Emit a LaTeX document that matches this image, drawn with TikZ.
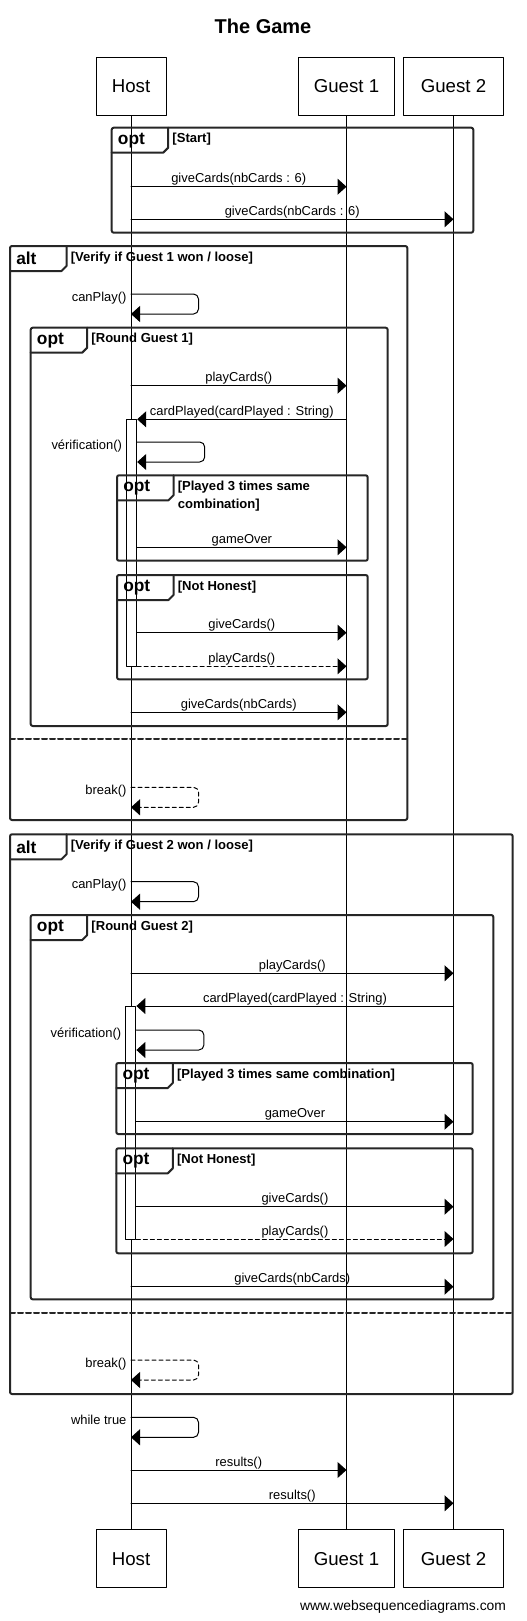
\documentclass[tikz,border=0pt]{standalone}
\usepackage{fontspec}
\setmainfont{Liberation Sans}
\usepackage{tikz}
\usetikzlibrary{positioning,calc,arrows.meta}

\begin{document}
\begin{tikzpicture}[x=0.75pt,y=-0.75pt, font=\fontsize{9.7}{11.5}\selectfont, line cap=round, line join=round]
	% ===== nền =====
	\fill[white] (0,0) rectangle (526,1621);
	\useasboundingbox (0,0) rectangle (526,1621);

	% ===== style =====
	\tikzset{
		actor/.style={draw, line width=0.75pt, minimum height=43.5pt, inner sep=0pt, font=\fontsize{14}{16}\selectfont},
		life/.style={line width=0.75pt},
		actbar/.style={draw, fill=white, line width=0.75pt, minimum width=7.8pt, inner sep=0pt},
		msg/.style={line width=0.75pt, -{Triangle[length=6.75pt,width=12pt]}},
		ret/.style={msg, dash pattern=on 3pt off 2.25pt},
		loopmsg/.style={msg, rounded corners=3.75pt},
		retloop/.style={ret, rounded corners=3.75pt},
		frame/.style={draw=black!85, line width=1.5pt, rounded corners=1.5pt},
		sep/.style={draw=black!85, line width=1.5pt, dash pattern=on 3.75pt off 2.25pt},
		kind/.style={anchor=west, inner sep=0pt, font=\fontsize{13}{15}\bfseries\selectfont},
		guard/.style={anchor=north west, inner sep=0pt, align=left, font=\fontsize{9.8}{13.7}\bfseries\selectfont},
		lbl/.style={midway, anchor=base, yshift=2.8pt, inner sep=0pt},
		side/.style={anchor=base east, inner sep=0pt}
	}

	% ===== tiêu đề =====
	\node[font=\fontsize{15}{18}\bfseries\selectfont] (title) at (263,26) {The Game};

	% ===== các đối tượng + đường đời =====
	\foreach \n/\x/\w/\t in {host/131/52.5/Host, gOne/346.5/72/Guest 1, gTwo/453.5/75/Guest 2}{
		\node[actor, minimum width=\w pt] (\n-top) at (\x,86) {\t};
		\node[actor, minimum width=\w pt] (\n-bot) at (\x,1558.7) {\t};
		\draw[life] (\n-top) -- (\n-bot);
	}

	% ===== thanh kích hoạt =====
	\node[actbar, minimum height=185.25pt] (actOne) at (131.5,542.8) {};
	\node[actbar, minimum height=174.75pt] (actTwo) at (130.7,1122.5) {};

	% ===== các khung opt / alt =====
	\foreach \xa/\ya/\xb/\yb/\k/\g [count=\i] in {
		111.7/127.7/473.3/232.7/opt/{[Start]},
		10/246/407.3/820/alt/{[Verify if Guest 1 won / loose]},
		30.7/327.7/387.7/726/opt/{[Round Guest 1]},
		117/475.3/367.7/560.7/opt/{[Played 3 times same\\combination]},
		117/575/367.7/679.3/opt/{[Not Honest]},
		10/834.3/512.7/1394/alt/{[Verify if Guest 2 won / loose]},
		30.7/915/493.3/1299.3/opt/{[Round Guest 2]},
		116.3/1063/472.7/1134/opt/{[Played 3 times same combination]},
		116.3/1148.3/472.7/1253.3/opt/{[Not Honest]}}{
		\draw[frame] (\xa,\ya) rectangle (\xb,\yb);
		\draw[frame, rounded corners=0pt] (\xa,\ya+25) -- (\xa+51.5,\ya+25) -- (\xa+56.5,\ya+20) -- (\xa+56.5,\ya);
		\node[kind] (kind\i) at (\xa+6,\ya+12.5) {\k};
		\node[guard] (guard\i) at (\xa+60.5,\ya+5.5) {\g};
	}
	\draw[sep] (10,739.3) -- (407.3,739.3);
	\draw[sep] (10,1312.7) -- (512.7,1312.7);

	% ===== thông điệp =====
	\foreach \y/\a/\b/\s/\t [count=\i] in {
		186.7/host-top/gOne-top/msg/{giveCards(nbCards : 6)},
		219.3/host-top/gTwo-top/msg/{giveCards(nbCards : 6)},
		385.7/host-top/gOne-top/msg/{playCards()},
		419.3/gOne-top/actOne.east/msg/{cardPlayed(cardPlayed : String)},
		547.3/actOne.east/gOne-top/msg/{gameOver},
		632.7/actOne.east/gOne-top/msg/{giveCards()},
		666.3/actOne.east/gOne-top/ret/{playCards()},
		712.3/host-top/gOne-top/msg/{giveCards(nbCards)},
		973.3/host-top/gTwo-top/msg/{playCards()},
		1006/gTwo-top/actTwo.east/msg/{cardPlayed(cardPlayed : String)},
		1121.7/actTwo.east/gTwo-top/msg/{gameOver},
		1206.7/actTwo.east/gTwo-top/msg/{giveCards()},
		1239/actTwo.east/gTwo-top/ret/{playCards()},
		1286.7/host-top/gTwo-top/msg/{giveCards(nbCards)},
		1470/host-top/gOne-top/msg/{results()},
		1503.3/host-top/gTwo-top/msg/{results()}}{
		\draw[\s] (\a |- 0,\y) -- (\b |- 0,\y) node[lbl] (m\i) {\t};
	}

	% ===== tự gọi =====
	\foreach \y/\a/\o/\s/\t [count=\i] in {
		294/host-top/-4.3/loopmsg/{canPlay()},
		442/actOne.east/-15/loopmsg/{vérification()},
		787.3/host-top/-4.3/retloop/{break()},
		881.7/host-top/-4.3/loopmsg/{canPlay()},
		1030/actTwo.east/-15/loopmsg/{vérification()},
		1360/host-top/-4.3/retloop/{break()},
		1417.3/host-top/-4.3/loopmsg/{while true}}{
		\draw[\s] (\a |- 0,\y) -- ++(67.5,0) -- ++(0,20) -- (\a |- 0,\y+20);
		\node[side] (s\i) at ($(\a |- 0,\y)+(\o,7)$) {\t};
	}

	% ===== chân trang =====
	\node[anchor=east, font=\fontsize{10.4}{12}\selectfont] (footer) at (510.7,1607.3) {www.websequencediagrams.com};
\end{tikzpicture}
\end{document}
